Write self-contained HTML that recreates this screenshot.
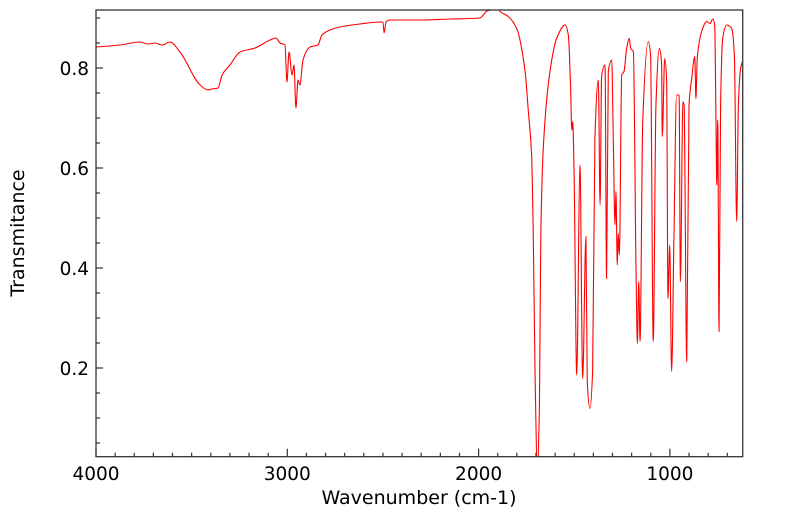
<!DOCTYPE html>
<html><head><meta charset="utf-8"><style>
html,body{margin:0;padding:0;background:#fff;}
svg{display:block;font-family:"DejaVu Sans","Liberation Sans",sans-serif;}
</style></head><body>
<svg id="chart" width="799" height="516" viewBox="0 0 799 516">
<defs><clipPath id="clip"><rect x="96" y="10" width="646.7" height="446.7"/></clipPath></defs>
<rect x="0" y="0" width="799" height="516" fill="#fff"/>
<g id="ticks"></g>
<path id="spectrum" clip-path="url(#clip)" fill="none" stroke="#ff0000" stroke-width="1.1" stroke-linejoin="round"/>
<rect x="96" y="10" width="646.7" height="446.7" fill="none" stroke="#333" stroke-width="1.3"/>
<text x="419" y="504" text-anchor="middle" font-size="19" fill="#000">Wavenumber (cm-1)</text>
<text transform="translate(24,233) rotate(-90)" text-anchor="middle" font-size="19" fill="#000">Transmitance</text>
</svg>
<script>
const wavenumbers = [4000,3875,3770,3728,3692,3655,3613,3561,3456,3415,3394,3362,3341,3300,3247,3169,3090,3059,3038,3012,3002,2991,2975,2965,2955,2944,2934,2918,2881,2840,2819,2777,2725,2620,2515,2500,2494,2484,2463,2306,2149,1993,1956,1899,
1888,1845,1801,1757,1740,1723,1714,1705,1693,1682,1675,1662,1627,1592,1548,1531,1519,1513,1508,1501,1487,1470,1456,1439,1432,1418,1404,1392,1374,1365,1357,1339,1331,1322,1304,1296,1287,1282,1275,1270,1264,1252,1240,1226,1212,1205,1191,1177,1170,1163,1156,1142,1113,1101,1087,1073,1055,1043,1040,1027,1017,1010,1001,991,979,965,952,945,932,926,912,900,886,870,864,857,834,808,790,776,766,759,755,750,743,735,724,703,677,663,651,642,630,621];
const transmittance = [0.842,0.846,0.852,0.848,0.85,0.846,0.852,0.832,0.766,0.756,0.758,0.76,0.786,0.806,0.832,0.84,0.856,0.86,0.85,0.846,0.772,0.832,0.786,0.806,0.72,0.776,0.766,0.816,0.842,0.846,0.866,0.876,0.882,0.888,0.892,0.892,0.87,0.892,0.896,0.896,0.898,0.9,0.914,0.918,
0.913,0.903,0.879,0.793,0.713,0.626,0.459,0.193,0.0,0.126,0.459,0.639,0.793,0.859,0.886,0.866,0.759,0.676,0.693,0.593,0.186,0.606,0.179,0.463,0.173,0.119,0.193,0.659,0.776,0.526,0.783,0.806,0.379,0.793,0.816,0.659,0.486,0.553,0.406,0.469,0.426,0.786,0.793,0.839,0.859,0.839,0.833,0.393,0.249,0.373,0.253,0.693,0.853,0.826,0.253,0.726,0.839,0.806,0.663,0.819,0.773,0.339,0.446,0.193,0.459,0.746,0.746,0.373,0.733,0.726,0.213,0.726,0.779,0.823,0.739,0.819,0.873,0.893,0.889,0.898,0.886,0.693,0.566,0.696,0.273,0.726,0.859,0.886,0.879,0.826,0.493,0.726,0.8,0.813];
const xTickLabels = [4000,3000,2000,1000];
const yTickLabels = [0.2,0.4,0.6,0.8];

const X0=96, XR=742.7, YT=10, YB=456.7;
function xScale(w){ return X0 + (4000 - w) * 0.1913; }
function yScale(t){ return 468 - 500 * t; }
const NS='http://www.w3.org/2000/svg';
const ticks=document.getElementById('ticks');
const svg=document.getElementById('chart');

function monotonePath(xs, ys){
  const n=xs.length, m=new Array(n), dk=new Array(n-1);
  for(let i=0;i<n-1;i++){ const h=xs[i+1]-xs[i]; dk[i]=h?(ys[i+1]-ys[i])/h:0; }
  m[0]=dk[0]; m[n-1]=dk[n-2];
  for(let i=1;i<n-1;i++){
    if(dk[i-1]*dk[i]<=0) m[i]=0;
    else { const h0=xs[i]-xs[i-1], h1=xs[i+1]-xs[i];
      m[i]=3*(h0+h1)/((2*h1+h0)/dk[i-1]+(h1+2*h0)/dk[i]); }
  }
  let d='M'+xs[0].toFixed(2)+','+ys[0].toFixed(2);
  for(let i=0;i<n-1;i++){
    const h=(xs[i+1]-xs[i])/3;
    d+='C'+(xs[i]+h).toFixed(2)+','+(ys[i]+m[i]*h).toFixed(2)+' '+(xs[i+1]-h).toFixed(2)+','+(ys[i+1]-m[i+1]*h).toFixed(2)+' '+xs[i+1].toFixed(2)+','+ys[i+1].toFixed(2);
  }
  return d;
}
document.getElementById('spectrum').setAttribute('d', monotonePath(wavenumbers.map(xScale), transmittance.map(yScale)));

function line(x1,y1,x2,y2,name){
  const l=document.createElementNS(NS,'line');
  l.setAttribute('x1',x1);l.setAttribute('y1',y1);l.setAttribute('x2',x2);l.setAttribute('y2',y2);
  l.setAttribute('stroke','#333');l.setAttribute('stroke-width','1.2');
  
  
  ticks.appendChild(l);
}
for(let w=4000; w>=620; w-=100){
  const x=xScale(w);
  const major = (w%1000===0);
  line(x,YB,x,YB-(major?8:4), major?'x-major-tick':'x-minor-tick');
}
for(let k=1;k<=18;k++){
  const t=k*0.05;
  const y=yScale(t);
  if(y<YT||y>YB) continue;
  const major=(k%4===0);
  line(X0,y,X0+(major?7:4),y, major?'y-major-tick':'y-minor-tick');
}
xTickLabels.forEach(v=>{
  const t=document.createElementNS(NS,'text');
  t.setAttribute('x',xScale(v));t.setAttribute('y',480);
  t.setAttribute('text-anchor','middle');t.setAttribute('font-size','18.5');
  t.textContent=String(v);
  
  
  svg.appendChild(t);
});
yTickLabels.forEach(v=>{
  const t=document.createElementNS(NS,'text');
  t.setAttribute('x',89);t.setAttribute('y',yScale(v)+7);
  t.setAttribute('text-anchor','end');t.setAttribute('font-size','18.5');
  t.textContent=v.toFixed(1);
  
  
  svg.appendChild(t);
});
</script>
</body></html>
